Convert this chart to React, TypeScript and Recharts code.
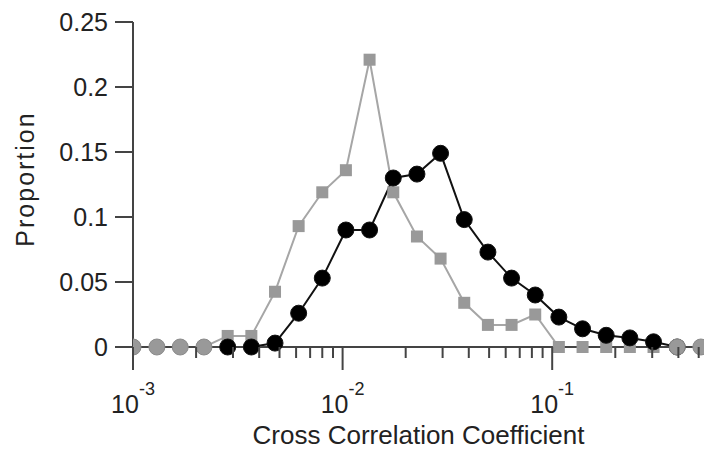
import { Label, Line, LineChart, XAxis, YAxis } from 'recharts';

// bin centres (log spaced) and proportions
const coefficients = [
  0.001, 0.0013, 0.00168, 0.00218, 0.00283, 0.00367, 0.00476, 0.00617, 0.008,
  0.01037, 0.01345, 0.01745, 0.02263, 0.02934, 0.03805, 0.04935, 0.064, 0.083,
  0.1076, 0.1396, 0.181, 0.2347, 0.3044, 0.3948, 0.512,
];
const graySeries = [
  0, 0, 0, 0, 0.0085, 0.0085, 0.0425, 0.093, 0.119, 0.136, 0.221, 0.119, 0.085,
  0.068, 0.034, 0.017, 0.017, 0.025, 0, 0, 0, 0, 0, 0, 0,
];
const blackSeries = [
  null, null, null, null, 0, 0, 0.003, 0.026, 0.053, 0.09, 0.09, 0.13, 0.133,
  0.149, 0.098, 0.073, 0.053, 0.04, 0.023, 0.014, 0.009, 0.007, 0.004, 0, null,
];
// points where both series sit at zero (drawn as gray circles)
const sharedZero = [
  0, 0, 0, 0, null, null, null, null, null, null, null, null, null, null, null,
  null, null, null, null, null, null, null, null, 0, 0,
];

const xTicks = [
  0.001, 0.002, 0.003, 0.004, 0.005, 0.006, 0.007, 0.008, 0.009,
  0.01, 0.02, 0.03, 0.04, 0.05, 0.06, 0.07, 0.08, 0.09,
  0.1, 0.2, 0.3, 0.4, 0.5,
];
const yTicks = [0, 0.05, 0.1, 0.15, 0.2, 0.25];

const data = coefficients.map((c, i) => ({
  c,
  gray: graySeries[i],
  black: blackSeries[i],
  zero: sharedZero[i],
}));

const axisColor = '#444';
const textColor = '#222';
const font = '"Liberation Sans", Arial, sans-serif';

function XTick({ x, y, payload }: any) {
  const v = payload.value;
  const lg = Math.log10(v);
  const exp = Math.round(lg);
  const major = Math.abs(lg - exp) < 1e-6;
  return (
    <g>
      <line x1={x} x2={x} y1={y} y2={y + (major ? 23 : 11)} stroke={axisColor} strokeWidth={2} />
      {major && (
        <text x={x} y={y + 66} textAnchor="middle" fontSize={25} fill={textColor} fontFamily={font}>
          10
          <tspan dy={-18} fontSize={18}>
            {`-${-exp}`}
          </tspan>
        </text>
      )}
    </g>
  );
}

function blackDot(props: any) {
  const { cx, cy, index } = props;
  if (cx == null || cy == null || blackSeries[index] == null) return <g key={`b${index}`} />;
  return <circle key={`b${index}`} cx={cx} cy={cy} r={8} fill="#000" stroke="#111" strokeWidth={1} />;
}

function grayDot(props: any) {
  const { cx, cy, index } = props;
  if (cx == null || cy == null || sharedZero[index] != null) return <g key={`g${index}`} />;
  return <rect key={`g${index}`} x={cx - 6} y={cy - 6} width={12} height={12} fill="#999" />;
}

function zeroDot(props: any) {
  const { cx, cy, index } = props;
  if (cx == null || cy == null || sharedZero[index] == null) return <g key={`z${index}`} />;
  return <circle key={`z${index}`} cx={cx} cy={cy} r={8} fill="#999" stroke="#8a8a8a" strokeWidth={1} />;
}

export default function App() {
  return (
    <div style={{ position: 'absolute', left: 0, top: 0, background: '#fff' }}>
      <LineChart width={704} height={451} data={data} margin={{ top: 22, right: 0, left: 0, bottom: 0 }}>
        <XAxis
          dataKey="c"
          type="number"
          scale="log"
          domain={[0.001, 0.53]}
          allowDataOverflow
          ticks={xTicks}
          interval={0}
          height={104}
          tickSize={0}
          tickMargin={0}
          tickLine={false}
          tick={<XTick />}
          axisLine={{ stroke: axisColor, strokeWidth: 2 }}
        >
          <Label
            content={({ viewBox }: any) => (
              <text
                x={viewBox.x + viewBox.width / 2}
                y={444}
                textAnchor="middle"
                fontSize={26}
                fill={textColor}
                fontFamily={font}
              >
                Cross Correlation Coefficient
              </text>
            )}
          />
        </XAxis>
        <YAxis
          type="number"
          domain={[0, 0.25]}
          ticks={yTicks}
          interval={0}
          width={133}
          tickSize={18}
          tickMargin={7}
          tickFormatter={(v) => String(v)}
          tick={{ fill: textColor, fontSize: 25, fontFamily: font }}
          tickLine={{ stroke: axisColor, strokeWidth: 2 }}
          axisLine={{ stroke: axisColor, strokeWidth: 2 }}
        >
          <Label
            content={() => (
              <text
                x={34}
                y={179}
                transform="rotate(-90 34 179)"
                textAnchor="middle"
                fontSize={25}
                letterSpacing={2}
                fill={textColor}
                fontFamily={font}
              >
                Proportion
              </text>
            )}
          />
        </YAxis>
        <Line
          dataKey="gray"
          stroke="#a6a6a6"
          strokeWidth={2}
          dot={grayDot}
          activeDot={false}
          isAnimationActive={false}
        />
        <Line
          dataKey="black"
          stroke="#111"
          strokeWidth={2}
          dot={blackDot}
          activeDot={false}
          isAnimationActive={false}
        />
        <Line
          dataKey="zero"
          stroke="none"
          dot={zeroDot}
          activeDot={false}
          isAnimationActive={false}
        />
      </LineChart>
    </div>
  );
}
